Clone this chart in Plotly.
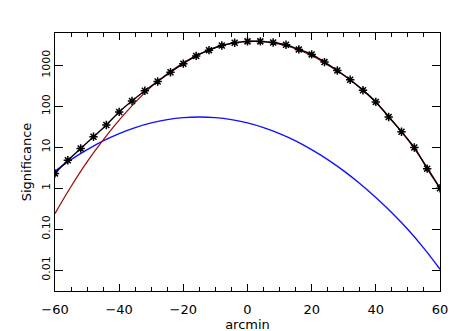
import plotly.graph_objects as go

# Measured points (asterisks), every 4 arcmin
x_pts = [-60, -56, -52, -48, -44, -40, -36, -32, -28, -24, -20, -16, -12, -8, -4,
         0, 4, 8, 12, 16, 20, 24, 28, 32, 36, 40, 44, 48, 52, 56, 60]
y_pts = [2.3, 4.8, 9.3, 18, 35, 73, 135, 240, 405, 680, 1100, 1700, 2350, 3050, 3550,
         3850, 3850, 3620, 3180, 2450, 1850, 1200, 750, 445, 247, 128, 55, 24, 9.9, 3.0, 1.0]

# Model curves sampled every 5 arcmin
x_curve = [-60, -55, -50, -45, -40, -35, -30, -25, -20, -15, -10, -5, 0,
           5, 10, 15, 20, 25, 30, 35, 40, 45, 50, 55, 60]
red_vals = [0.24, 1.1, 4.4, 15, 46, 125, 300, 620, 1150, 1880, 2700, 3450, 3850,
            3800, 3300, 2570, 1740, 1030, 575, 288, 126, 46, 15.1, 4.2, 1.0]
blue_vals = [2.6, 5.0, 8.7, 14.3, 21.6, 30.2, 39.3, 47.3, 53, 55, 53, 47.3, 39.3,
             30.2, 21.6, 14.3, 8.7, 5.0, 2.65, 1.30, 0.59, 0.25, 0.098, 0.034, 0.0105]

y_tickvals = [0.01, 0.1, 1, 10, 100, 1000]
y_ticktext = ["0.01", "0.10", "1", "10", "100", "1000"]
x_tickvals = [-60, -40, -20, 0, 20, 40, 60]
x_ticktext = ["\u221260", "\u221240", "\u221220", "0", "20", "40", "60"]

fig = go.Figure()
fig.add_trace(go.Scatter(x=x_curve, y=blue_vals, mode="lines",
                         line=dict(color="#1010ff", width=1.4, shape="spline",
                                   smoothing=1.3),
                         showlegend=False))
fig.add_trace(go.Scatter(x=x_curve, y=red_vals, mode="lines",
                         line=dict(color="#a01010", width=1.3, shape="spline",
                                   smoothing=1.3),
                         showlegend=False))
fig.add_trace(go.Scatter(x=x_pts, y=y_pts, mode="lines+markers",
                         line=dict(color="black", width=1.4, shape="spline"),
                         marker=dict(symbol="asterisk-open", size=7,
                                     line=dict(color="black", width=1.5)),
                         showlegend=False))

font = dict(family="DejaVu Sans", size=13, color="black")
# page body adds an 8px margin, so margins are reduced by 8px on top/left
fig.update_layout(
    width=463, height=331,
    margin=dict(l=47, r=31, t=25, b=48),
    paper_bgcolor="white", plot_bgcolor="white",
    font=font,
    xaxis=dict(range=[-60, 60], tickvals=x_tickvals, ticktext=x_ticktext,
               automargin=False, ticklabelstandoff=6,
               tickfont=dict(family="DejaVu Sans", size=13, color="black"),
               ticks="inside", ticklen=7, tickwidth=1, tickcolor="black",
               showline=True, linecolor="black", linewidth=1.2, mirror="ticks",
               showgrid=False, zeroline=False,
               minor=dict(dtick=5, ticks="inside", ticklen=4, tickcolor="black",
                          showgrid=False),
               title=dict(text="arcmin", standoff=0, font=font)),
    yaxis=dict(type="log", range=[-2.51, 3.79], tickvals=y_tickvals,
               ticktext=y_ticktext, tickangle=-90, automargin=False,
               tickfont=dict(family="DejaVu Sans", size=11, color="black"),
               ticks="inside", ticklen=8, tickwidth=1, tickcolor="black",
               showline=True, linecolor="black", linewidth=1.2, mirror="ticks",
               showgrid=False, zeroline=False,
               title=dict(text="Significance", standoff=4, font=font)),
)
fig.write_html("out.html")
